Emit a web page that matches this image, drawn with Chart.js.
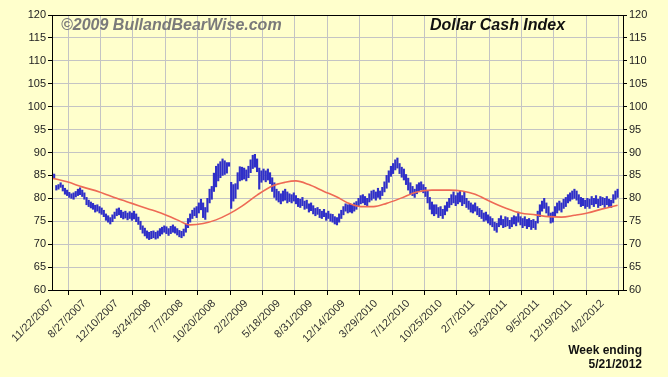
<!DOCTYPE html>
<html>
<head>
<meta charset="utf-8">
<script src="https://cdn.jsdelivr.net/npm/chart.js@4/dist/chart.umd.min.js"></script>
<style>
  html, body { margin: 0; padding: 0; background: #ffffcc; }
  canvas { display: block; }
</style>
</head>
<body>
<canvas id="chart" width="668" height="377"></canvas>
<script>
// tick labels, one every 15 weeks
var tickLabels = ["11/22/2007", "8/27/2007", "12/10/2007", "3/24/2008", "7/7/2008", "10/20/2008",
  "2/2/2009", "5/18/2009", "8/31/2009", "12/14/2009", "3/29/2010", "7/12/2010", "10/25/2010",
  "2/7/2011", "5/23/2011", "9/5/2011", "12/19/2011", "4/2/2012"];

// weekly lows / highs
var lows = [
  84.6, 84.3, 81.8, 82.0, 82.4, 81.6, 80.9, 80.6, 80.2, 80.0,
  79.8, 80.3, 80.6, 80.8, 80.4, 79.8, 78.6, 78.2, 77.9, 77.6,
  77.0, 77.2, 76.8, 76.5, 76.0, 75.2, 74.8, 74.4, 74.9, 75.6,
  76.2, 76.4, 75.8, 75.5, 75.7, 75.3, 75.6, 75.2, 75.5, 74.9,
  74.3, 73.2, 72.4, 71.8, 71.3, 71.0, 71.2, 71.4, 71.1, 71.3,
  71.8, 72.2, 72.6, 72.3, 71.9, 72.3, 72.6, 72.4, 72.0, 71.6,
  71.4, 71.8, 72.6, 73.6, 74.8, 75.6, 76.2, 75.8, 76.8, 77.5,
  75.8, 75.4, 77.0, 79.0, 79.8, 81.5, 82.5, 83.8, 84.5, 85.0,
  85.2, 85.5, 87.0, 77.8, 79.4, 80.0, 82.0, 83.8, 84.0, 84.2,
  83.8, 84.5, 85.6, 86.5, 86.8, 85.8, 82.0, 83.5, 84.0, 83.6,
  84.0, 83.2, 81.5, 80.2, 79.6, 79.2, 78.8, 79.4, 79.6, 79.0,
  79.3, 79.0, 79.4, 78.8, 78.2, 78.0, 78.4, 77.6, 77.8, 77.0,
  77.3, 76.6, 76.2, 76.5, 75.8, 75.6, 76.0, 75.2, 75.6, 75.0,
  74.8, 74.4, 74.2, 74.8, 75.6, 76.4, 77.2, 76.8, 77.0, 76.8,
  77.2, 77.6, 78.2, 78.8, 79.0, 78.6, 78.3, 79.2, 79.6, 80.0,
  79.6, 80.2, 79.8, 80.6, 81.4, 82.2, 83.5, 84.8, 85.4, 86.2,
  86.6, 85.4, 84.6, 84.0, 83.0, 81.8, 81.0, 80.6, 80.2, 81.0,
  81.6, 81.8, 81.2, 80.4, 79.0, 77.6, 76.6, 76.2, 76.6, 75.8,
  76.2, 75.6, 76.4, 77.2, 78.0, 78.6, 79.0, 78.4, 78.8, 79.2,
  78.4, 78.8, 78.0, 77.6, 77.0, 76.8, 77.2, 76.4, 76.0, 75.6,
  75.0, 75.2, 74.6, 74.2, 73.8, 73.0, 72.6, 73.8, 74.2, 73.6,
  73.8, 74.0, 73.4, 73.8, 74.4, 74.0, 74.8, 74.2, 73.6, 74.0,
  73.4, 73.8, 73.2, 73.6, 73.2, 74.6, 76.0, 77.2, 77.8, 76.8,
  76.2, 74.6, 74.8, 76.0, 76.8, 77.4, 77.0, 77.8, 78.2, 79.0,
  79.4, 79.8, 80.0, 79.6, 78.8, 78.2, 78.4, 77.8, 78.2, 77.8,
  78.6, 78.2, 78.8, 78.0, 78.4, 78.6, 78.0, 78.6, 78.2, 78.0,
  79.0, 79.8, 80.2
];
var highs = [
  85.6, 85.3, 82.8, 83.0, 83.4, 82.9, 82.2, 81.8, 81.3, 81.0,
  81.2, 81.5, 82.0, 82.3, 81.8, 81.2, 80.2, 79.6, 79.2, 78.9,
  78.5, 78.6, 78.2, 77.9, 77.4, 76.6, 76.2, 75.8, 76.4, 77.0,
  77.7, 77.9, 77.4, 77.0, 77.2, 76.8, 77.1, 76.8, 77.2, 76.6,
  75.9, 75.0, 74.0, 73.5, 72.9, 72.6, 72.8, 72.9, 72.6, 72.9,
  73.4, 73.7, 74.0, 73.8, 73.4, 73.9, 74.2, 73.8, 73.4, 73.0,
  72.8, 73.3, 74.4, 75.6, 76.6, 77.4, 77.9, 78.2, 79.0, 79.8,
  79.0, 78.0, 80.0, 82.0, 82.6, 85.5, 87.0, 87.5, 88.0, 88.6,
  88.2, 87.8, 87.8, 83.5, 83.0, 83.2, 85.6, 86.9, 86.8, 86.6,
  86.2, 87.0, 88.4, 89.4, 89.6, 88.6, 86.6, 86.0, 86.4, 86.0,
  86.4, 85.6, 84.5, 83.4, 82.0, 81.5, 81.0, 81.6, 82.0, 81.4,
  81.0, 80.8, 81.2, 80.6, 80.0, 79.8, 80.2, 79.4, 79.6, 78.8,
  79.0, 78.4, 77.8, 78.0, 77.6, 77.2, 77.6, 76.8, 77.2, 76.6,
  76.5, 76.0, 75.8, 76.6, 77.4, 78.2, 78.8, 78.6, 78.9, 78.6,
  79.0, 79.3, 80.0, 80.6, 80.8, 80.4, 80.0, 81.0, 81.6, 81.8,
  81.4, 82.2, 81.6, 82.4, 83.6, 85.0, 86.0, 87.0, 87.6, 88.4,
  88.8, 87.6, 86.8, 86.4, 85.2, 84.4, 83.4, 82.6, 82.0, 83.0,
  83.4, 83.6, 83.0, 82.4, 81.6, 80.2, 79.2, 78.6, 78.6, 78.0,
  78.2, 77.6, 78.4, 79.2, 80.0, 80.8, 81.4, 80.6, 81.2, 81.6,
  80.6, 81.4, 80.0, 79.4, 79.0, 78.6, 79.0, 78.2, 77.8, 77.4,
  76.8, 77.0, 76.4, 76.0, 75.6, 74.8, 74.6, 75.6, 76.2, 75.4,
  76.0, 75.8, 75.2, 75.8, 76.2, 76.0, 77.0, 76.0, 75.6, 76.0,
  75.4, 75.6, 75.2, 75.4, 75.0, 77.2, 78.6, 79.4, 80.0, 79.0,
  78.2, 76.8, 77.0, 78.2, 79.0, 79.4, 79.0, 79.8, 80.2, 80.8,
  81.2, 81.6, 82.0, 81.6, 80.8, 80.2, 80.0, 79.6, 80.0, 79.8,
  80.4, 80.0, 80.6, 79.8, 80.4, 80.2, 80.0, 80.4, 79.8, 79.6,
  80.8, 81.6, 82.0
];

// moving average line, sampled weeks
var maWeeks = [0, 7, 14, 22, 30, 37, 44, 51, 58, 64, 70, 76, 82, 88, 95, 102, 108, 113, 119, 126,
  132, 137, 143, 149, 155, 162, 169, 176, 184, 190, 196, 203, 210, 217, 224, 230, 236, 242, 248, 255, 262];
var maValues = [84.4, 83.6, 82.5, 81.4, 80.0, 78.9, 77.8, 76.7, 75.3, 74.2, 74.5, 75.3, 76.6, 78.3, 80.7, 82.7, 83.5, 83.8, 83.0, 81.5,
  80.3, 79.0, 78.2, 78.2, 78.9, 80.1, 81.4, 81.8, 81.8, 81.6, 80.9, 79.3, 77.9, 76.8, 76.4, 76.0, 75.9, 76.3, 76.8, 77.7, 78.5];

var tickFont = { family: "'Liberation Sans', Arial, sans-serif", size: 11 };

var decor = {
  id: 'decor',
  beforeDraw: function(chart) {
    var ctx = chart.ctx;
    ctx.save();
    ctx.fillStyle = '#ffffcc';
    ctx.fillRect(0, 0, chart.width, chart.height);
    ctx.restore();
  },
  afterDraw: function(chart) {
    var ctx = chart.ctx, a = chart.chartArea;
    ctx.save();
    ctx.strokeStyle = '#000';
    ctx.lineWidth = 1;
    ctx.strokeRect(a.left + 0.5, a.top + 0.5, a.right - a.left, a.bottom - a.top);

    ctx.textBaseline = 'middle';
    ctx.textAlign = 'left';
    ctx.fillStyle = '#7a7a7a';
    ctx.font = "italic bold 16px 'Liberation Sans', Arial, sans-serif";
    ctx.fillText('\u00a92009 BullandBearWise.com', 61, 26);

    ctx.fillStyle = '#111';
    ctx.font = "italic bold 16px 'Liberation Sans', Arial, sans-serif";
    ctx.fillText('Dollar Cash Index', 430, 26);

    ctx.textAlign = 'right';
    ctx.font = "bold 12px 'Liberation Sans', Arial, sans-serif";
    ctx.fillText('Week ending', 642, 351);
    ctx.fillText('5/21/2012', 642, 365);
    ctx.restore();
  }
};

new Chart(document.getElementById('chart').getContext('2d'), {
  type: 'bar',
  data: {
    datasets: [
      {
        type: 'line',
        label: 'Average',
        data: maWeeks.map(function(w, i) { return { x: w, y: maValues[i] }; }),
        borderColor: '#ee6a55',
        borderWidth: 1.6,
        pointRadius: 0,
        cubicInterpolationMode: 'monotone',
        order: 0
      },
      {
        label: 'Dollar',
        data: lows.map(function(lo, i) { return { x: i, y: [lo, highs[i]] }; }),
        backgroundColor: '#2f2fc8',
        borderWidth: 0,
        barThickness: 1.5,
        order: 1
      }
    ]
  },
  options: {
    responsive: false,
    animation: false,
    layout: { padding: { top: 15, left: 0, right: 0, bottom: 0 } },
    plugins: {
      legend: { display: false },
      tooltip: { enabled: false }
    },
    scales: {
      x: {
        type: 'linear',
        min: 0,
        max: 264.5,
        offset: false,
        afterBuildTicks: function(s) {
          s.ticks = tickLabels.map(function(l, i) { return { value: i * 15 }; });
        },
        afterFit: function(s) { s.height = 87; },
        ticks: {
          autoSkip: false,
          maxRotation: 45,
          minRotation: 45,
          padding: 2,
          color: '#333',
          font: tickFont,
          callback: function(v, i) { return tickLabels[i]; }
        },
        grid: { color: '#c4c4c4', tickColor: '#000', tickLength: 5 },
        border: { color: '#000' }
      },
      y: {
        position: 'left',
        min: 60,
        max: 120,
        afterFit: function(s) { s.width = 52; },
        ticks: { stepSize: 5, color: '#222', font: tickFont, padding: 2 },
        grid: { color: '#c4c4c4', tickColor: '#000', tickLength: 4 },
        border: { color: '#000' }
      },
      y2: {
        position: 'right',
        min: 60,
        max: 120,
        afterFit: function(s) { s.width = 45; },
        ticks: { stepSize: 5, color: '#222', font: tickFont, padding: 2 },
        grid: { drawOnChartArea: false, tickColor: '#000', tickLength: 4 },
        border: { color: '#000' }
      }
    }
  },
  plugins: [decor]
});
</script>
</body>
</html>
